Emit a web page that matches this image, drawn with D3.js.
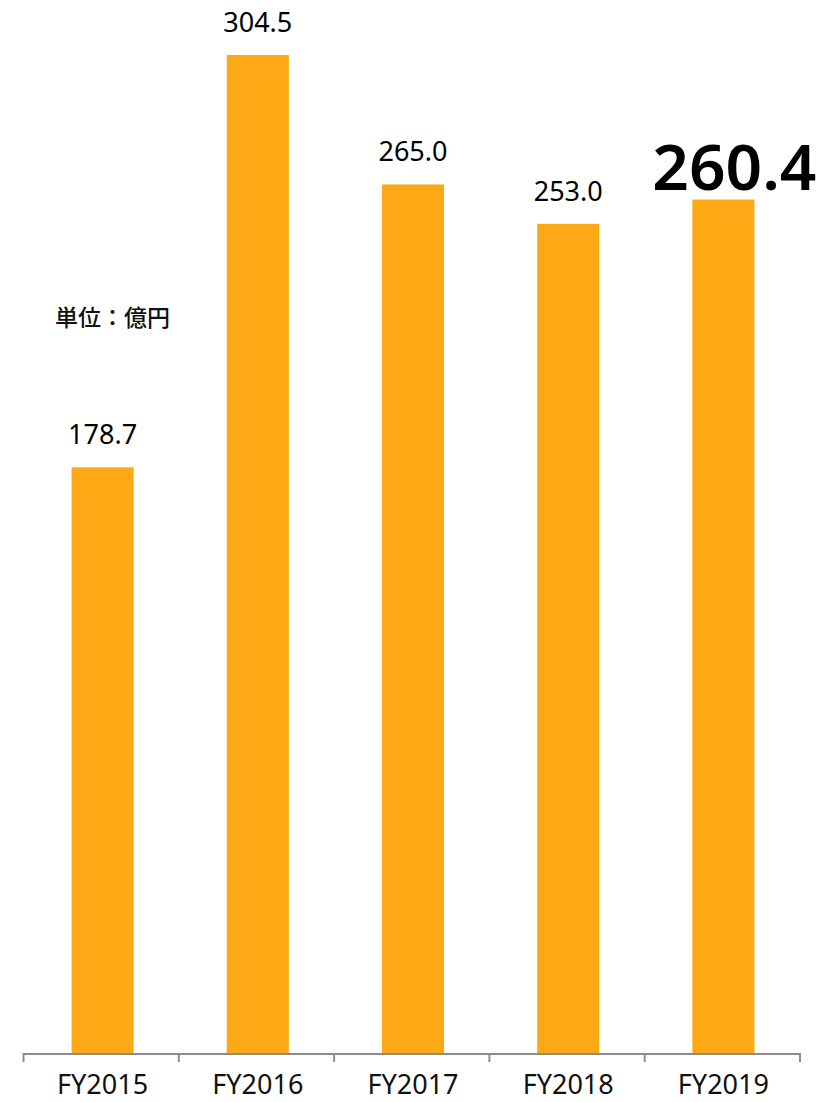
<!DOCTYPE html>
<html><head><meta charset="utf-8">
<script src="https://cdn.jsdelivr.net/npm/d3@7"></script>
<style>body{margin:0;background:#fff;} svg{display:block;}</style>
</head><body>
<svg id="c" width="828" height="1102"></svg>
<script>
const categories = ["FY2015","FY2016","FY2017","FY2018","FY2019"];
const values = [178.7, 304.5, 265.0, 253.0, 260.4];
const valueLabels = ["178.7","304.5","265.0","253.0","260.4"];
const unitLabel = "単位：億円";

const svg = d3.select("#c");
const font = "'Noto Sans','Noto Sans CJK JP',sans-serif";
const x = d3.scaleBand().domain(categories).range([25, 801]).paddingInner(0.6).paddingOuter(0.3);
const y = d3.scaleLinear().domain([0, 304.5]).range([1053, 55]);

svg.selectAll("rect.bar").data(values).enter().append("rect")
  .attr("class","bar")
  .attr("x",(d,i)=>x(categories[i]))
  .attr("width",x.bandwidth())
  .attr("y",d=>y(d))
  .attr("height",d=>y(0)-y(d))
  .attr("fill","#FCA915");

// axis
const xa = d3.scaleLinear().domain([0,5]).range([23.5,800]);
const g = svg.append("g");
g.append("line").attr("x1",xa(0)).attr("x2",xa(5)).attr("y1",1054).attr("y2",1054)
  .attr("stroke","#8c8c8c").attr("stroke-width",2);
g.selectAll("line.tick").data(d3.range(6)).enter().append("line")
  .attr("x1",d=>xa(d)).attr("x2",d=>xa(d)).attr("y1",1053).attr("y2",1062)
  .attr("stroke","#8c8c8c").attr("stroke-width",2);

svg.selectAll("text.cat").data(categories).enter().append("text")
  .attr("x",d=>x(d)+x.bandwidth()/2).attr("y",1094)
  .attr("text-anchor","middle").attr("font-family",font).attr("font-size",27)
  .attr("fill","#111").text(d=>d);

svg.selectAll("text.val").data(values).enter().append("text")
  .attr("x",(d,i)=>x(categories[i])+x.bandwidth()/2 + (i===4?11:0))
  .attr("y",(d,i)=>i===4 ? y(d)-10 : y(d)-23)
  .attr("text-anchor","middle").attr("font-family",font)
  .attr("font-size",(d,i)=>i===4?64:27)
  .attr("font-weight",(d,i)=>i===4?600:"normal")
  .attr("fill","#000").text((d,i)=>valueLabels[i]);

svg.append("text").attr("x",55).attr("y",326).attr("font-family","'Noto Sans CJK JP',sans-serif")
  .attr("font-size",23).attr("font-weight",500).attr("fill","#111").text(unitLabel);
</script>
</body></html>
